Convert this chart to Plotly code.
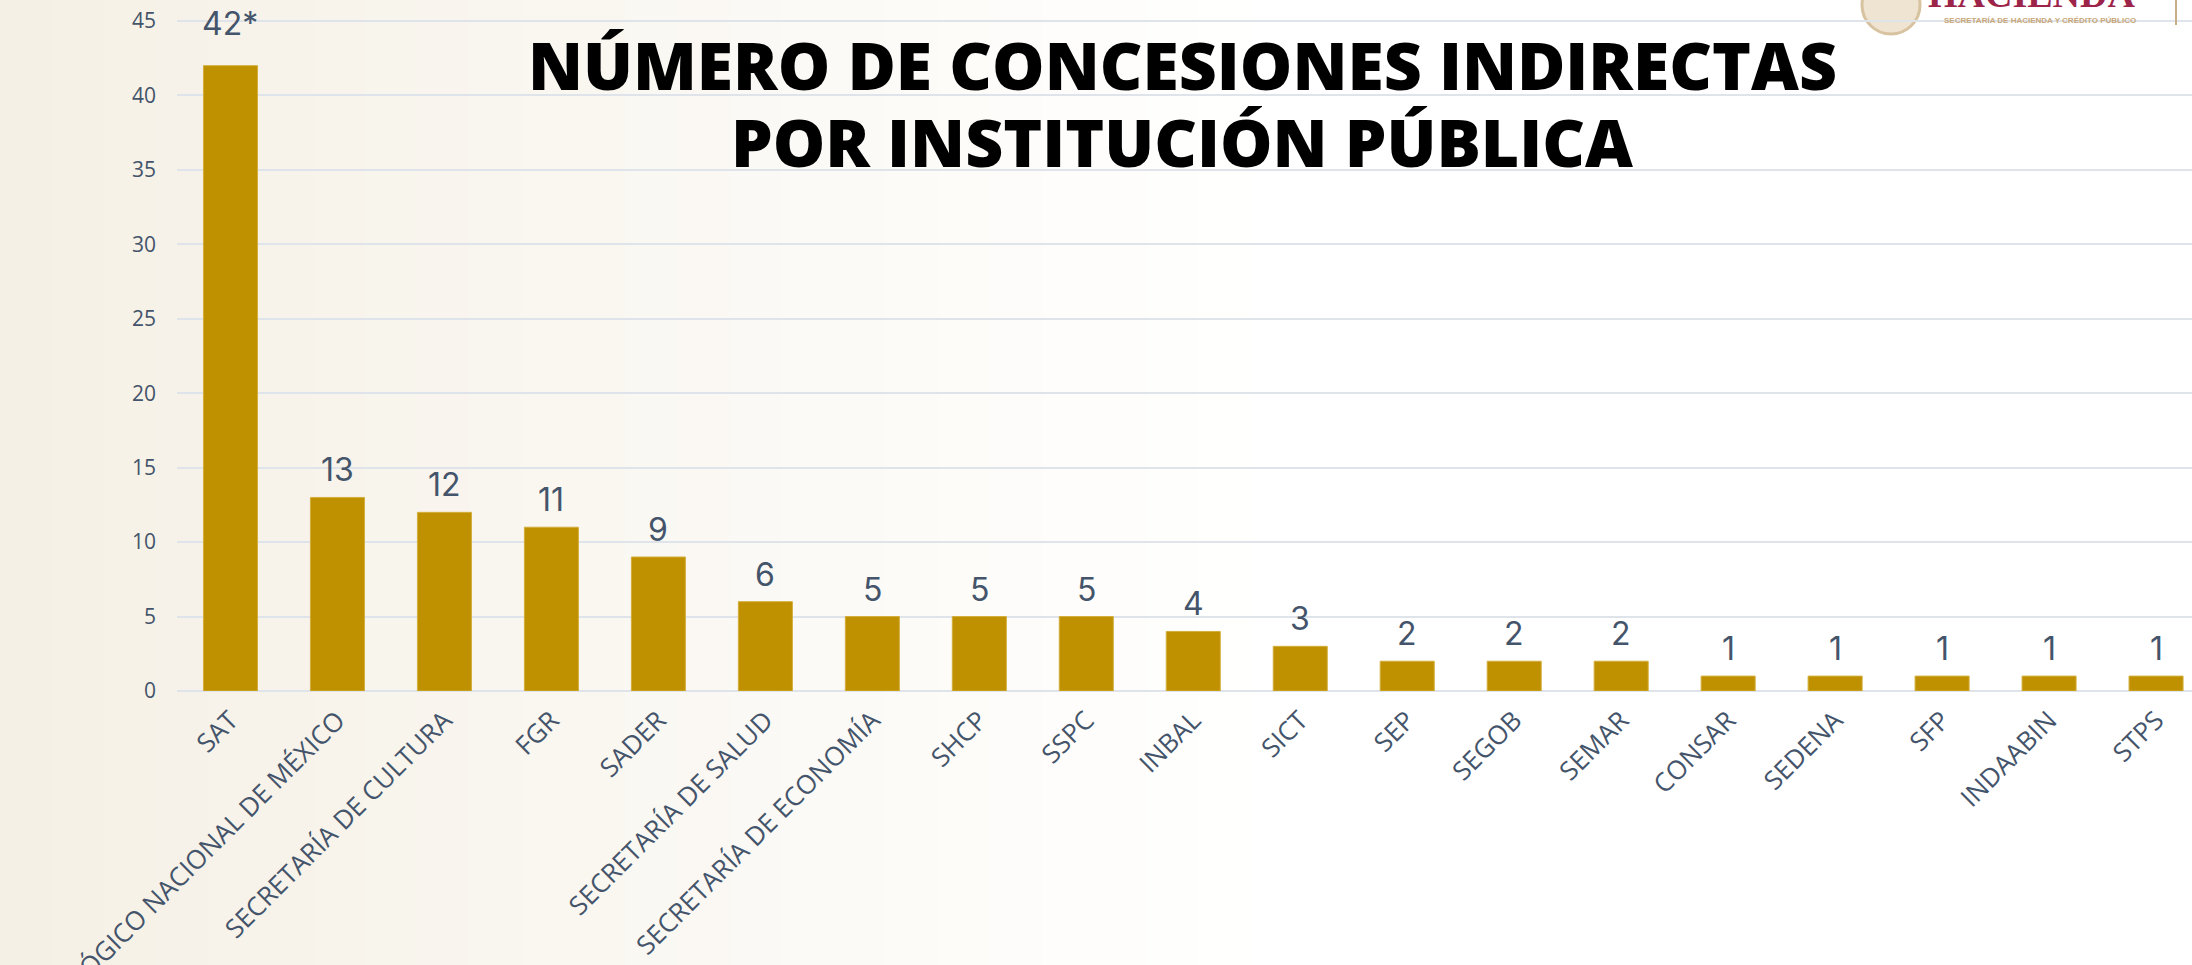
import plotly.graph_objects as go

# ---- data ----
categories = [
    "SAT", "TECNOLÓGICO NACIONAL DE MÉXICO", "SECRETARÍA DE CULTURA", "FGR", "SADER",
    "SECRETARÍA DE SALUD", "SECRETARÍA DE ECONOMÍA", "SHCP", "SSPC", "INBAL", "SICT",
    "SEP", "SEGOB", "SEMAR", "CONSAR", "SEDENA", "SFP", "INDAABIN", "STPS",
]
values = [42, 13, 12, 11, 9, 6, 5, 5, 5, 4, 3, 2, 2, 2, 1, 1, 1, 1, 1]
value_labels = ["42*", "13", "12", "11", "9", "6", "5", "5", "5", "4", "3",
                "2", "2", "2", "1", "1", "1", "1", "1"]
y_ticks = [0, 5, 10, 15, 20, 25, 30, 35, 40, 45]
title_lines = ["NÚMERO DE CONCESIONES INDIRECTAS", "POR INSTITUCIÓN PÚBLICA"]

GOLD = "#BF9000"
TEXT = "#44546A"
GRID = "#DFE3EA"

W, H = 2192, 965
Y_TOP = 45.2
UNIT = 14.89                      # px per unit on y
PLOT_BOTTOM = 691                 # screen y of 0
PLOT_TOP = PLOT_BOTTOM - Y_TOP * UNIT
ML = 177
MR = 0
MT = int(round(PLOT_TOP))
MB = H - PLOT_BOTTOM

fig = go.Figure()
fig.add_trace(go.Bar(
    x=categories, y=values,
    marker=dict(color=GOLD, line=dict(color="#D3AE3C", width=1)),
    width=0.505,
    hoverinfo="x+y",
))

# value labels above bars
for c, v, t in zip(categories, values, value_labels):
    fig.add_annotation(
        x=c, y=v, text=t, showarrow=False, xref="x", yref="y",
        yanchor="bottom", yshift=(21 if t.endswith("*") else 6),
        font=dict(family="Inter, Lato, sans-serif", size=32, color=TEXT),
    )

plot_h = H - MT - MB
plot_w = W - ML - MR
def py(pixel):
    return ((H - MB) - pixel) / plot_h
def px(pixel):
    return (pixel - ML) / plot_w

# faint cream tint fading out to the right (stands in for the watermark)
CREAM = (245, 240, 229)
N_STEPS = 24
FADE_W = 1250
for k in range(N_STEPS):
    f = 1 - (k + 0.5) / N_STEPS
    r, g, b = (round(255 - f * (255 - c)) for c in CREAM)
    fig.add_shape(type="rect", xref="paper", yref="paper",
                  x0=px(FADE_W * k / N_STEPS), x1=px(FADE_W * (k + 1) / N_STEPS + 1),
                  y0=py(H), y1=py(0),
                  fillcolor=f"rgb({r},{g},{b})", line=dict(width=0), layer="below")

# title lines
fig.add_annotation(
    x=px(1182), y=py(64), xref="paper", yref="paper", text=title_lines[0],
    showarrow=False, xanchor="center", yanchor="middle",
    font=dict(family="Open Sans, sans-serif", size=66, color="#000000", weight=800),
)
fig.add_annotation(
    x=px(1182), y=py(141), xref="paper", yref="paper", text=title_lines[1],
    showarrow=False, xanchor="center", yanchor="middle",
    font=dict(family="Open Sans, sans-serif", size=66, color="#000000", weight=800),
)

# logo-like header at top right (partially cut off, as in reference)
fig.add_annotation(
    x=px(2031), y=py(-6), xref="paper", yref="paper", text="HACIENDA",
    showarrow=False, xanchor="center", yanchor="middle",
    font=dict(family="Liberation Serif, serif", size=38, color="#9D2449", weight="bold"),
)
fig.add_annotation(
    x=px(2040), y=py(21), xref="paper", yref="paper",
    text="SECRETARÍA DE HACIENDA Y CRÉDITO PÚBLICO",
    showarrow=False, xanchor="center", yanchor="middle",
    font=dict(family="Liberation Sans, sans-serif", size=8, color="#C7A77A", weight="bold"),
)
fig.add_shape(type="circle", xref="paper", yref="paper",
              x0=px(1862), x1=px(1920), y0=py(34), y1=py(-24),
              line=dict(color="#D8C3A0", width=3), fillcolor="#EFE4D2", layer="below")
fig.add_shape(type="line", xref="paper", yref="paper",
              x0=px(2176), x1=px(2176), y0=py(0), y1=py(25),
              line=dict(color="#C9AD86", width=2))

fig.update_layout(
    width=W, height=H,
    margin=dict(l=ML, r=MR, t=MT, b=MB, autoexpand=False),
    paper_bgcolor="white", plot_bgcolor="rgba(0,0,0,0)",
    showlegend=False,
    bargap=0.495,
    xaxis=dict(
        range=[-0.5, 18.336], tickangle=-45,
        tickfont=dict(family="Open Sans, sans-serif", size=26, color=TEXT),
        showgrid=False, showline=False, zeroline=False, ticks="",
        ticklabelstandoff=8,
        automargin=False,
    ),
    yaxis=dict(
        range=[0, Y_TOP], tickvals=y_ticks,
        tickfont=dict(family="Open Sans, sans-serif", size=21, color=TEXT),
        showgrid=True, gridcolor=GRID, gridwidth=2,
        zeroline=True, zerolinecolor=GRID, zerolinewidth=2,
        showline=False, ticks="", ticklabelstandoff=20,
        ticklabeloverflow="allow",
        automargin=False,
    ),
)

fig.write_html(
    "out.html",
    config={"displayModeBar": False},
    post_script="document.body.style.margin='0px';",
)
